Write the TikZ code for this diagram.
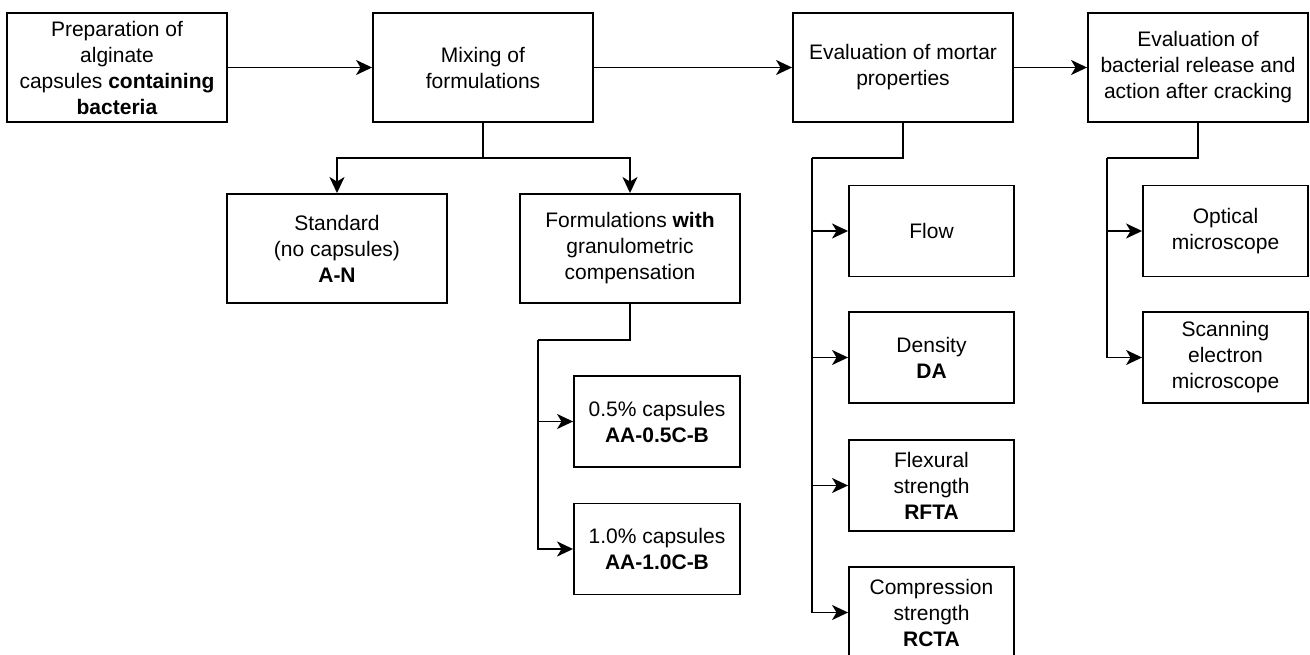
\documentclass[tikz,border=0pt]{standalone}
\usepackage{fontspec}
\setmainfont{Liberation Sans}
\usetikzlibrary{arrows.meta}
\begin{document}
\begin{tikzpicture}[x=1pt,y=-1pt,
  box/.style={draw=black, line width=1.9pt, fill=white, inner sep=0pt, align=center,
    font=\fontsize{21}{26}\selectfont},
  bigbox/.style={box, minimum width=220pt, minimum height=109pt},
  smallbox/.style={box, minimum width=165pt, minimum height=91pt},
  conn/.style={line width=1.9pt, draw=black, line join=miter},
  arr/.style={conn, -{Stealth[length=16pt, width=15pt, inset=4.5pt]}}]
\useasboundingbox (0,0) rectangle (1310,655);
\fill[white] (0,0) rectangle (1310,655);
% top row
\node[bigbox] (p1) at (117,67.5) {Preparation of\\alginate\\capsules \textbf{containing}\\\textbf{bacteria}};
\node[bigbox] (mix) at (483,67.5) {Mixing of\\formulations};
\node[bigbox] (mort) at (903,67.5) {Evaluation of mortar\\properties};
\node[bigbox] (bact) at (1198,67.5) {Evaluation of\\bacterial release and\\action after cracking};
% second row
\node[bigbox] (std) at (337,248.5) {Standard\\(no capsules)\\\textbf{A-N}};
\node[bigbox] (form) at (630,248.5) {Formulations \textbf{with}\\granulometric\\compensation};
% capsules
\node[smallbox, minimum width=166pt] (c05) at (657,421.5) {0.5\% capsules\\\textbf{AA-0.5C-B}};
\node[smallbox, minimum width=166pt] (c10) at (657,549) {1.0\% capsules\\\textbf{AA-1.0C-B}};
% mortar properties
\node[smallbox] (flow) at (931.5,231) {Flow};
\node[smallbox] (dens) at (931.5,357.5) {Density\\\textbf{DA}};
\node[smallbox] (flex) at (931.5,485.5) {Flexural\\strength\\\textbf{RFTA}};
\node[smallbox] (comp) at (931.5,612.5) {Compression\\strength\\\textbf{RCTA}};
% microscopes
\node[smallbox] (opt) at (1225.5,231) {Optical\\microscope};
\node[smallbox] (sem) at (1225.5,357.5) {Scanning\\electron\\microscope};
% junctions
\coordinate (j1) at (483,158);
\coordinate (j2) at (538,340);
\coordinate (j3) at (812,158);
\coordinate (j4) at (1107,158);
% connectors
\draw[arr] (p1.east) -- (mix.west);
\draw[arr] (mix.east) -- (mort.west);
\draw[arr] (mort.east) -- (bact.west);
\draw[conn] (mix.south) -- (j1);
\draw[arr] (j1) -| (std.north);
\draw[arr] (j1) -| (form.north);
\draw[conn] (form.south) |- (j2);
\draw[arr] (j2) |- (c05.west);
\draw[arr] (j2) |- (c10.west);
\draw[conn] (mort.south) |- (j3);
\draw[arr] (j3) |- (flow.west);
\draw[arr] (j3) |- (dens.west);
\draw[arr] (j3) |- (flex.west);
\draw[arr] (j3) |- (comp.west);
\draw[conn] (bact.south) |- (j4);
\draw[arr] (j4) |- (opt.west);
\draw[arr] (j4) |- (sem.west);
\end{tikzpicture}
\end{document}
